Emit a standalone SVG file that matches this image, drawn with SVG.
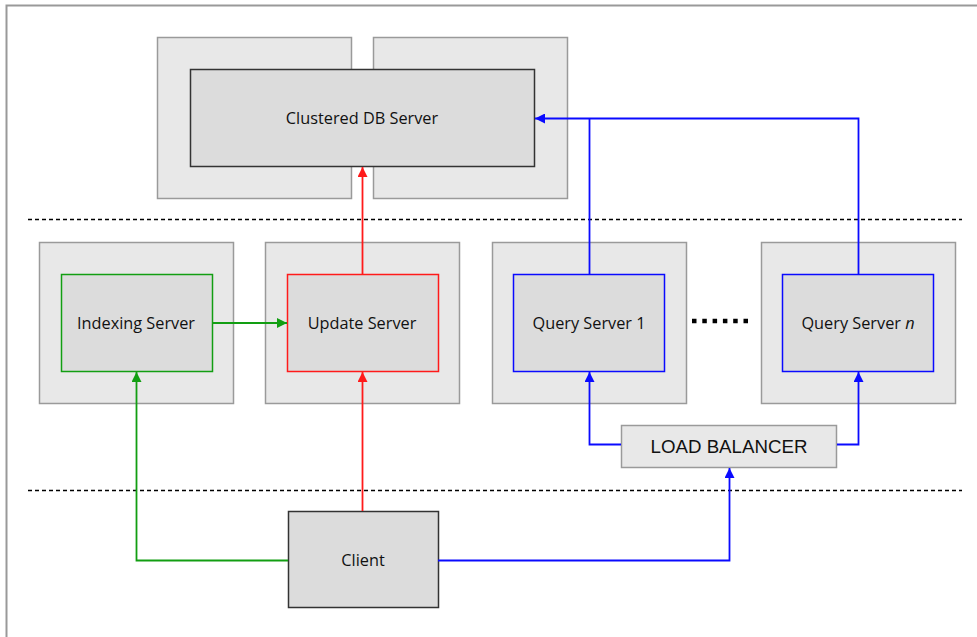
<svg xmlns="http://www.w3.org/2000/svg" width="977" height="637" viewBox="0 0 977 637">
  <style>
    .frame { fill: none; stroke: #999999; stroke-width: 2; }
    .shell { fill: #e8e8e8; stroke: #9a9a9a; stroke-width: 1.5; }
    .core { fill: #dcdcdc; stroke-width: 1.5; }
    .label { font-family: "Open Sans", "Noto Sans", "Liberation Sans", sans-serif; font-size: 16.3px; fill: #111111; text-anchor: middle; dominant-baseline: central; }
    .lb { font-family: "Liberation Sans", Arial, sans-serif; font-size: 18.7px; fill: #111111; text-anchor: middle; dominant-baseline: central; }
    .tier { stroke: #000000; stroke-width: 1.3; stroke-dasharray: 4 3; fill: none; }
    .wire { fill: none; stroke-width: 1.8; }
    .red { stroke: #ff1a1a; }
    .green { stroke: #129e12; }
    .blue { stroke: #0a0aff; }
  </style>
  <defs>
    <marker id="ah-red" viewBox="0 0 10 10" refX="10" refY="5" markerWidth="10" markerHeight="10" markerUnits="userSpaceOnUse" orient="auto">
      <path d="M0,0 L10,5 L0,10 Z" fill="#ff1a1a"/>
    </marker>
    <marker id="ah-green" viewBox="0 0 10 10" refX="10" refY="5" markerWidth="10" markerHeight="10" markerUnits="userSpaceOnUse" orient="auto">
      <path d="M0,0 L10,5 L0,10 Z" fill="#129e12"/>
    </marker>
    <marker id="ah-blue" viewBox="0 0 10 10" refX="10" refY="5" markerWidth="10" markerHeight="10" markerUnits="userSpaceOnUse" orient="auto">
      <path d="M0,0 L10,5 L0,10 Z" fill="#0a0aff"/>
    </marker>
  </defs>

  <rect x="0" y="0" width="977" height="637" fill="#ffffff"/>
  <!-- page frame (top and left edges) -->
  <path class="frame" d="M6.5,640 V5.5 H980"/>

  <!-- tier separators -->
  <g id="tiers">
    <line class="tier" x1="28" y1="219.5" x2="962" y2="219.5"/>
    <line class="tier" x1="28" y1="490.5" x2="962" y2="490.5"/>
  </g>

  <g id="db-server">
    <rect class="shell" x="157.5" y="37.5" width="194" height="161"/>
    <rect class="shell" x="373.5" y="37.5" width="194" height="161"/>
    <rect class="core" x="190.5" y="69.5" width="344" height="97" stroke="#333333"/>
    <text class="label" x="362" y="118">Clustered DB Server</text>
  </g>

  <g id="indexing-server">
    <rect class="shell" x="39.5" y="242.5" width="194" height="161"/>
    <rect class="core" x="61.5" y="274.5" width="151" height="97" stroke="#129e12"/>
    <text class="label" x="136" y="323">Indexing Server</text>
  </g>

  <g id="update-server">
    <rect class="shell" x="265.5" y="242.5" width="194" height="161"/>
    <rect class="core" x="287.5" y="274.5" width="151" height="97" stroke="#ff1a1a"/>
    <text class="label" x="362" y="323">Update Server</text>
  </g>

  <g id="query-server-1">
    <rect class="shell" x="492.5" y="242.5" width="194" height="161"/>
    <rect class="core" x="513.5" y="274.5" width="151" height="97" stroke="#0a0aff"/>
    <text class="label" x="589" y="323">Query Server 1</text>
  </g>

  <g id="ellipsis">
    <line x1="692" y1="321" x2="752" y2="321" stroke="#000000" stroke-width="4.5" stroke-dasharray="4.5 5.8"/>
  </g>

  <g id="query-server-n">
    <rect class="shell" x="761.5" y="242.5" width="194" height="161"/>
    <rect class="core" x="782.5" y="274.5" width="151" height="97" stroke="#0a0aff"/>
    <text class="label" x="858" y="323">Query Server <tspan font-style="italic">n</tspan></text>
  </g>

  <g id="load-balancer">
    <rect class="shell" x="621.5" y="425.5" width="215" height="42"/>
    <text class="lb" x="729" y="446">LOAD BALANCER</text>
  </g>

  <g id="client">
    <rect class="core" x="288.5" y="511.5" width="150" height="96" stroke="#333333"/>
    <text class="label" x="363" y="560">Client</text>
  </g>

  <g id="connectors">
    <!-- update path -->
    <path class="wire red" d="M362.5,511 V372" marker-end="url(#ah-red)"/>
    <path class="wire red" d="M362.5,274 V167" marker-end="url(#ah-red)"/>
    <!-- indexing path -->
    <path class="wire green" d="M288,560.5 H136.5 V372" marker-end="url(#ah-green)"/>
    <path class="wire green" d="M212,323 H287" marker-end="url(#ah-green)"/>
    <!-- query path -->
    <path class="wire blue" d="M438,560.5 H729.5 V468" marker-end="url(#ah-blue)"/>
    <path class="wire blue" d="M621,444.5 H589.5 V372" marker-end="url(#ah-blue)"/>
    <path class="wire blue" d="M837,444.5 H858.5 V372" marker-end="url(#ah-blue)"/>
    <path class="wire blue" d="M589.5,274 V118.5" />
    <path class="wire blue" d="M858.5,274 V118.5 H535" marker-end="url(#ah-blue)"/>
  </g>
</svg>
